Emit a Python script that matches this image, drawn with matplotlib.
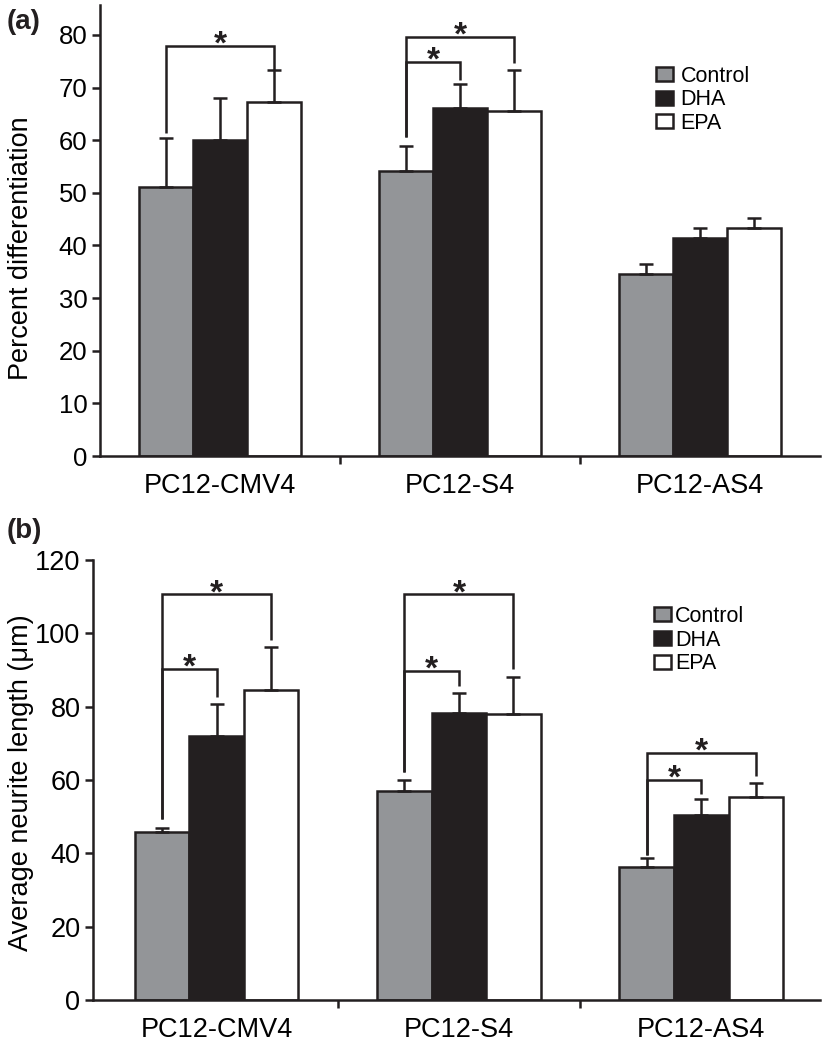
import numpy as np
import matplotlib
matplotlib.use("Agg")
import matplotlib.pyplot as plt

plt.rcParams['font.family'] = ['Liberation Sans', 'DejaVu Sans']

# data
groups = ['PC12-CMV4', 'PC12-S4', 'PC12-AS4']
series = ['Control', 'DHA', 'EPA']

ctrl_a = [51.1, 54.2, 34.5]
dha_a = [60.1, 66.1, 41.4]
epa_a = [67.2, 65.6, 43.3]
ctrl_a_err = [9.4, 4.7, 2.0]
dha_a_err = [8.0, 4.6, 1.9]
epa_a_err = [6.1, 7.7, 2.0]

ctrl_b = [45.9, 57.0, 36.4]
dha_b = [72.1, 78.2, 50.5]
epa_b = [84.5, 78.0, 55.5]
ctrl_b_err = [0.9, 3.0, 2.2]
dha_b_err = [8.6, 5.5, 4.3]
epa_b_err = [11.9, 10.2, 3.7]

# significance brackets: group, compared series (1=DHA, 2=EPA), left leg end, top, right leg end
sig_a = [(0, 2, 61.4, 78.0, 73.4),
         (1, 1, 60.7, 74.9, 71.4),
         (1, 2, 60.7, 79.6, 74.7)]
sig_b = [(0, 1, 49.5, 90.4, 82.7),
         (0, 2, 49.5, 110.6, 98.2),
         (1, 1, 62.1, 89.7, 85.7),
         (1, 2, 62.1, 110.6, 90.2),
         (2, 1, 39.5, 60.0, 56.1),
         (2, 2, 39.5, 67.4, 61.2)]

colors = ['#939598', '#231f20', '#ffffff']
ink = '#231f20'
w = 0.225
lw = 1.8

W, H = 823, 1050
fig = plt.figure(figsize=(W / 100, H / 100), dpi=100)


def panel(rect, vals, errs, sigs, ylim, yticks, ylabel, label_xy, leg_xy, leg_pad, ytick_size, xlim):
    ax = fig.add_axes(rect)
    x = np.arange(len(groups))
    for i in range(3):
        pos = x + (i - 1) * w
        ax.bar(pos, vals[i], w, color=colors[i], edgecolor=ink, linewidth=lw,
               label=series[i], zorder=2)
        ax.errorbar(pos, vals[i], yerr=[np.zeros(3), errs[i]], fmt='none',
                    ecolor=ink, elinewidth=lw, capsize=4.7, capthick=lw, zorder=3)
    for g, s, yl, yt, yr in sigs:
        x0 = g - w
        x1 = g + (s - 1) * w
        ax.plot([x0, x0, x1, x1], [yl, yt, yt, yr], color=ink, lw=lw,
                solid_capstyle='butt', solid_joinstyle='miter', zorder=3)
        ax.annotate('*', xy=((x0 + x1) / 2, yt), xytext=(0, -5.5),
                    textcoords='offset points', ha='center', va='baseline',
                    fontsize=24, fontweight='bold', color=ink)
    ax.set_xlim(*xlim)
    ax.set_ylim(*ylim)
    ax.set_yticks(yticks)
    ax.set_xticks([0.5, 1.5])
    ax.set_xticklabels([])
    ax.set_xticks(x, minor=True)
    ax.set_xticklabels(groups, minor=True, fontsize=19.5)
    ax.tick_params(axis='x', which='minor', length=0, pad=12)
    ax.tick_params(axis='x', which='major', length=6, width=lw, color=ink)
    ax.tick_params(axis='y', length=6, width=lw, color=ink, labelsize=ytick_size, pad=3)
    for sp in ['top', 'right']:
        ax.spines[sp].set_visible(False)
    for sp in ['left', 'bottom']:
        ax.spines[sp].set_linewidth(lw)
        ax.spines[sp].set_color(ink)
    ax.set_ylabel(ylabel, fontsize=19.5)
    ax.yaxis.set_label_coords(*label_xy)
    ax.legend(loc='center left', bbox_to_anchor=leg_xy, frameon=False, fontsize=15.5,
              handlelength=0.8, handleheight=0.62, handletextpad=leg_pad,
              labelspacing=0.12, borderpad=0, borderaxespad=0)
    return ax


ax_a = panel([100 / W, 1 - 456 / H, 720 / W, 451 / H],
             [ctrl_a, dha_a, epa_a], [ctrl_a_err, dha_a_err, epa_a_err], sig_a,
             (0, 85.7), range(0, 81, 10), 'Percent differentiation',
             (-0.092, 0.461), (0.772, 0.79), 0.35, 18.5, (-0.5, 2.5))

ax_b = panel([93 / W, 1 - 1000 / H, 727 / W, 440 / H],
             [ctrl_b, dha_b, epa_b], [ctrl_b_err, dha_b_err, epa_b_err], sig_b,
             (0, 120), range(0, 121, 20), 'Average neurite length (\u03bcm)',
             (-0.081, 0.493), (0.772, 0.818), 0.17, 19.5, (-0.51, 2.49))

fig.text(7 / W, 1 - 22 / H, '(a)', fontsize=20, fontweight='bold', va='center', color=ink)
fig.text(7 / W, 1 - 531 / H, '(b)', fontsize=20, fontweight='bold', va='center', color=ink)

fig.savefig('out.png', dpi=100)
